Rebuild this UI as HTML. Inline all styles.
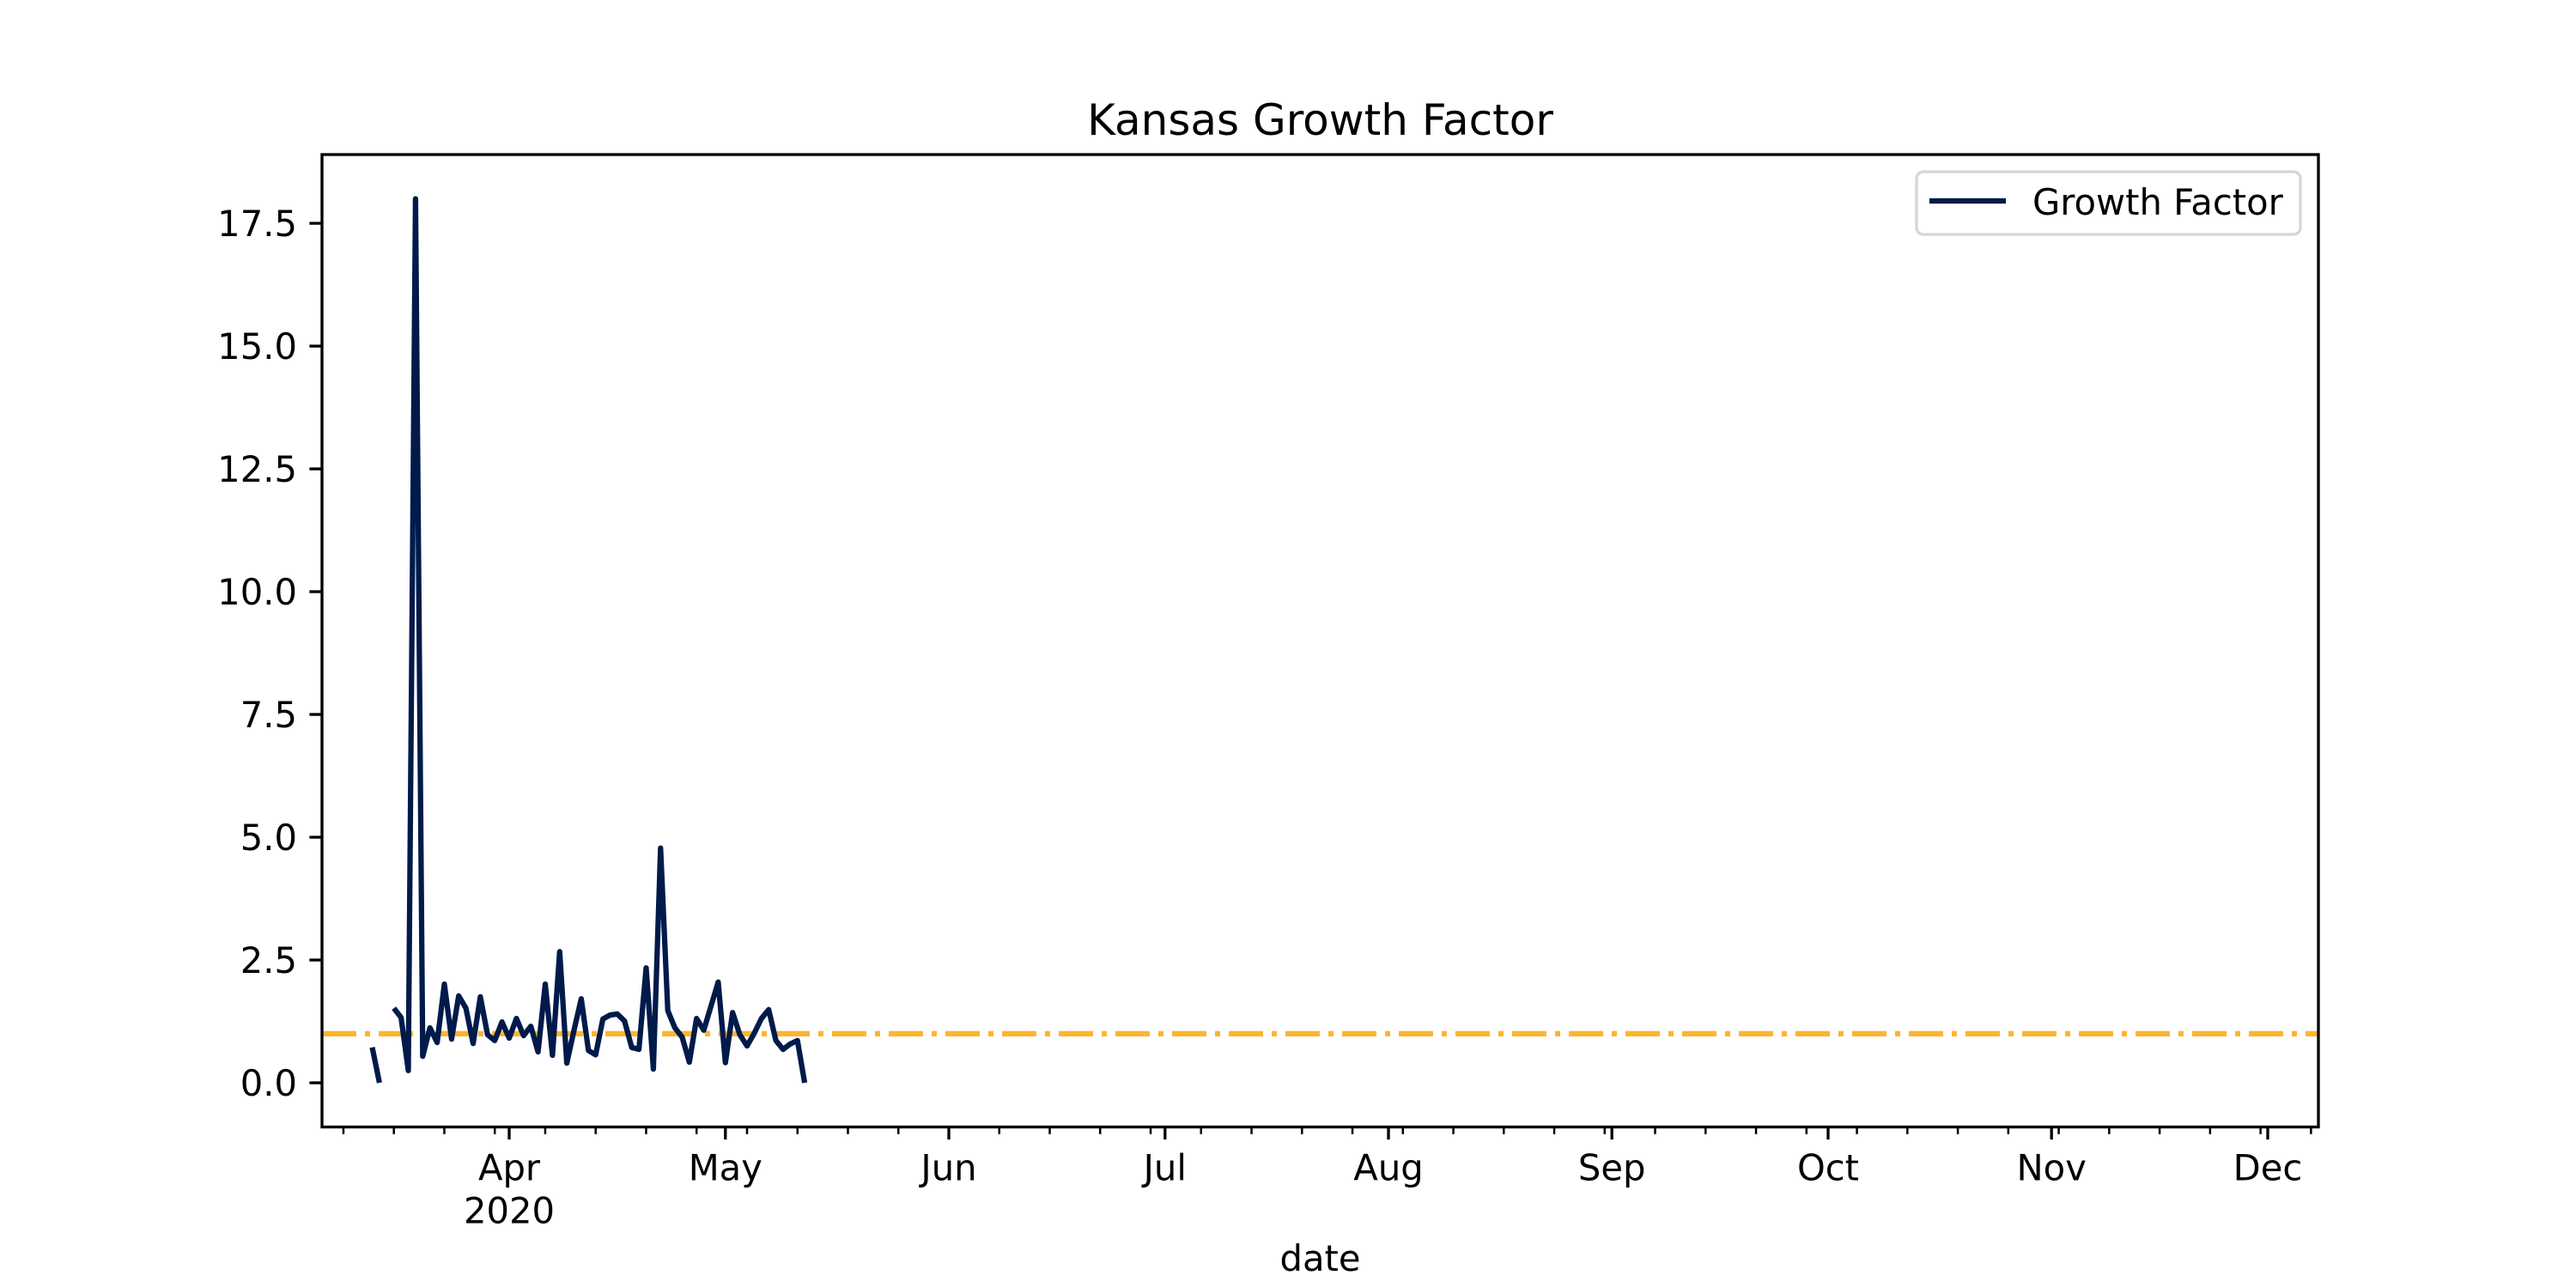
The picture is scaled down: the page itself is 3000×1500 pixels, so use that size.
<!DOCTYPE html>
<html><head><meta charset="utf-8"><style>
html,body{margin:0;padding:0;background:#fff;}
svg{display:block;font-family:"DejaVu Sans","Liberation Sans",sans-serif;}
</style></head>
<body>
<svg id="chart" width="3000" height="1500" viewBox="0 0 3000 1500" xmlns="http://www.w3.org/2000/svg">
<rect x="0" y="0" width="3000" height="1500" fill="#fff"/>
<text x="1537.5" y="157" font-size="50" text-anchor="middle" fill="#000">Kansas Growth Factor</text>
<g id="plot"></g>
<text x="1537.5" y="1480" font-size="41.7" text-anchor="middle" fill="#000">date</text>
</svg>
<script>
const dates = ["2020-03-13","2020-03-14","2020-03-15","2020-03-16","2020-03-17","2020-03-18","2020-03-19","2020-03-20","2020-03-21","2020-03-22","2020-03-23","2020-03-24","2020-03-25","2020-03-26","2020-03-27","2020-03-28","2020-03-29","2020-03-30","2020-03-31","2020-04-01","2020-04-02","2020-04-03","2020-04-04","2020-04-05","2020-04-06","2020-04-07","2020-04-08","2020-04-09","2020-04-10","2020-04-11","2020-04-12","2020-04-13","2020-04-14","2020-04-15","2020-04-16","2020-04-17","2020-04-18","2020-04-19","2020-04-20","2020-04-21","2020-04-22","2020-04-23","2020-04-24","2020-04-25","2020-04-26","2020-04-27","2020-04-28","2020-04-29","2020-04-30","2020-05-01","2020-05-02","2020-05-03","2020-05-04","2020-05-05","2020-05-06","2020-05-07","2020-05-08","2020-05-09","2020-05-10","2020-05-11","2020-05-12"];
const growthValues = [0.72,0,null,1.52,1.33,0.25,18.0,0.54,1.12,0.82,2.01,0.89,1.77,1.52,0.80,1.75,0.98,0.86,1.24,0.91,1.31,0.96,1.15,0.63,2.01,0.56,2.67,0.40,1.07,1.71,0.66,0.57,1.30,1.38,1.40,1.26,0.72,0.68,2.34,0.28,4.78,1.47,1.12,0.93,0.42,1.31,1.07,1.56,2.05,0.41,1.43,0.98,0.75,1.01,1.31,1.49,0.86,0.68,0.79,0.86,0];
const thresholdValue = [1.0];
const yTicks = [0,2.5,5,7.5,10,12.5,15,17.5];
const yTickLabels = ["0.0","2.5","5.0","7.5","10.0","12.5","15.0","17.5"];
const monthTicks = ["2020-04-01","2020-05-01","2020-06-01","2020-07-01","2020-08-01","2020-09-01","2020-10-01","2020-11-01","2020-12-01"];
const monthLabels = ["Apr","May","Jun","Jul","Aug","Sep","Oct","Nov","Dec"];
const seriesLabel = ["Growth Factor"];

const NS="http://www.w3.org/2000/svg";
const L=375,R=2700,T=180,B=1312.5;
const YMIN=-0.9,YMAX=18.9;
const REF=Date.UTC(2020,3,1);
const PXDAY=(2641-593)/244;
function dayOf(s){const p=s.split('-');return (Date.UTC(+p[0],+p[1]-1,+p[2])-REF)/86400000;}
function xs(s){return 593+dayOf(s)*PXDAY;}
function xd(d){return 593+d*PXDAY;}
function ys(v){return B-(v-YMIN)/(YMAX-YMIN)*(B-T);}
const g=document.getElementById('plot');
function mk(tag,attrs,parent){const e=document.createElementNS(NS,tag);for(const k in attrs)e.setAttribute(k,attrs[k]);(parent||g).appendChild(e);return e;}

const th=mk('line',{x1:L,x2:R,y1:ys(thresholdValue[0]),y2:ys(thresholdValue[0]),stroke:'#fdb52f','stroke-width':6.25,'stroke-dasharray':'40 10 6 10'});



let segs=[],cur=[];
for(let i=0;i<dates.length;i++){
  if(growthValues[i]===null){if(cur.length)segs.push(cur);cur=[];continue;}
  cur.push(xs(dates[i]).toFixed(1)+','+ys(growthValues[i]).toFixed(1));
}
if(cur.length)segs.push(cur);
segs.forEach((s,i)=>{
  const p=mk('polyline',{points:s.join(' '),fill:'none',stroke:'#001a4a','stroke-width':6.25,'stroke-linejoin':'round','stroke-linecap':'butt'});
  
  
});

const fr=mk('rect',{x:L,y:T,width:R-L,height:B-T,fill:'none',stroke:'#000','stroke-width':3.33});



yTicks.forEach((v,i)=>{
  const y=ys(v);
  const t=mk('line',{x1:L-14.6,x2:L,y1:y,y2:y,stroke:'#000','stroke-width':3.33});
  
  
  const tx=mk('text',{x:L-29,y:y+15,'font-size':41.7,'text-anchor':'end',fill:'#000'});
  tx.textContent=yTickLabels[i];
  
  
});

for(let d=-23; xd(d)<=R+0.5; d+=7){
  const x=xd(d);
  if(x<L-0.5)continue;
  const t=mk('line',{x1:x,x2:x,y1:B,y2:B+8.3,stroke:'#000','stroke-width':2.5});
  
  
}
monthTicks.forEach((m,i)=>{
  const x=xs(m);
  const t=mk('line',{x1:x,x2:x,y1:B,y2:B+14.6,stroke:'#000','stroke-width':3.33});
  
  
  const tx=mk('text',{x:x,y:B+62,'font-size':41.7,'text-anchor':'middle',fill:'#000'});
  tx.textContent=monthLabels[i];
  
  
});
const yr=mk('text',{x:xs(monthTicks[0]),y:B+112,'font-size':41.7,'text-anchor':'middle',fill:'#000'});
yr.textContent='2020';



const lg=mk('g',{});


const lb=mk('rect',{x:2232,y:200,width:447,height:73,rx:8,fill:'#fff',stroke:'#d6d6d6','stroke-width':3.3},lg);


const ll=mk('line',{x1:2247,x2:2336,y1:234,y2:234,stroke:'#001a4a','stroke-width':6.25},lg);


const lt=mk('text',{x:2367,y:250,'font-size':41.7,fill:'#000'},lg);
lt.textContent=seriesLabel[0];


</script>
</body></html>
